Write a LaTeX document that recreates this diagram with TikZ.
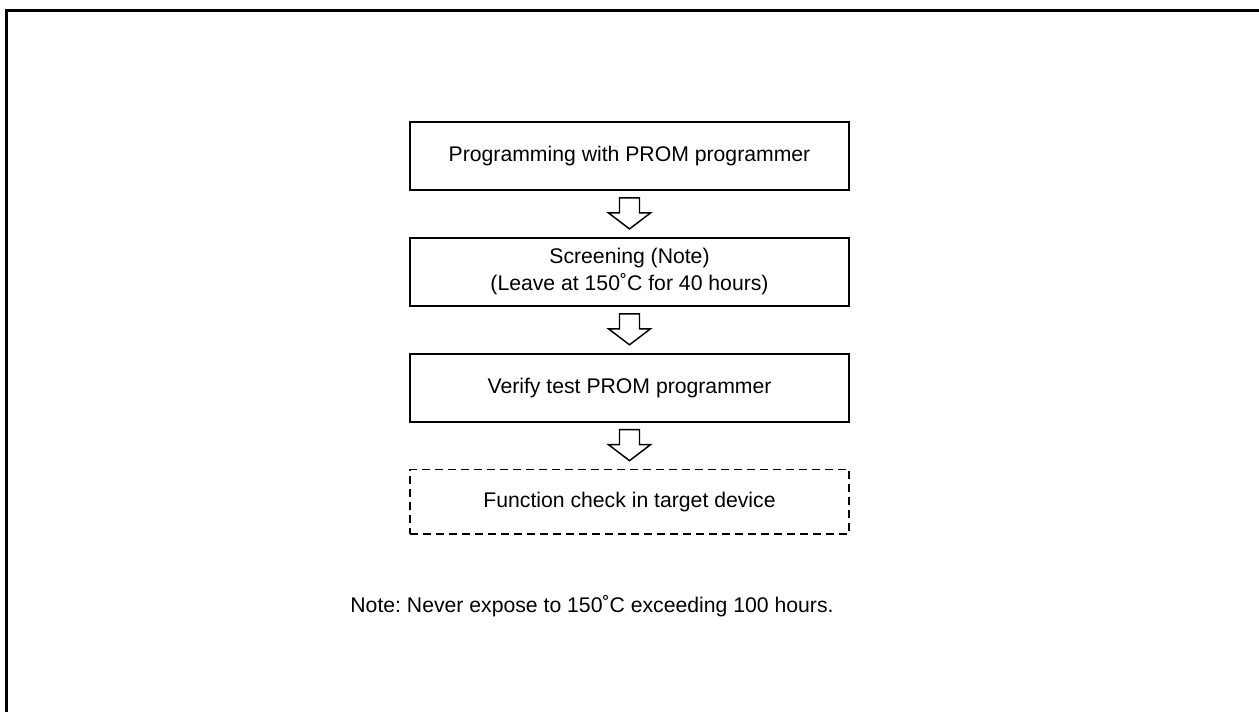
\documentclass[tikz,border=0pt]{standalone}
\usepackage{fontspec}
\setmainfont{Liberation Sans}
\usetikzlibrary{positioning,calc}
\frenchspacing

\tikzset{every picture/.style={line width=0.75pt}}
\tikzset{
  stepbox/.style={draw, line width=1.4pt, minimum width=329.25pt, minimum height=51pt,
    align=center, inner sep=0pt, font=\fontsize{15.9}{20.3}\selectfont},
  checkbox/.style={stepbox, line width=1.2pt, minimum height=48.5pt, dash pattern={on 6pt off 3.75pt}},
  hollowarrow/.style={draw, fill=white, line width=1.1pt, line join=miter},
}

\begin{document}
\begin{tikzpicture}[x=0.75pt,y=0.75pt,yscale=-1,xscale=1]
\useasboundingbox (0,0) rectangle (1259,711);

% frame (cut at right and bottom)
\coordinate (fbl) at (6.3,713);
\coordinate (ftl) at (6.3,10.3);
\coordinate (ftr) at (1262,10.3);
\draw [line width=2pt] (fbl) -- (ftl) -- (ftr) ;

% Flow boxes
\node [stepbox] (prog) at (629.5,156) {Programming with PROM programmer};
\node [stepbox, below=34.5pt of prog] (screen) {Screening (Note)\\(Leave at 150˚C for 40 hours)};
\node [stepbox, below=34.5pt of screen] (verify) {Verify test PROM programmer};
\node [checkbox, below=34.5pt of verify] (check) {Function check in target device};

% hollow arrows between boxes
\foreach \a/\b in {prog/screen,screen/verify,verify/check}
  \draw [hollowarrow] ($(\a.south)+(-10,7)$) -- ($(\a.south)+(-10,22)$) -- ($(\a.south)+(-21,22)$)
    -- ($(\b.north)+(0,-8)$) -- ($(\a.south)+(21,22)$) -- ($(\a.south)+(10,22)$) -- ($(\a.south)+(10,7)$) -- cycle ;

% Text Node
\node [anchor=base, inner sep=0pt, font=\fontsize{15.9}{19}\selectfont] (note) at (592,612.5) {Note: Never expose to 150˚C exceeding 100 hours.};
\end{tikzpicture}
\end{document}
